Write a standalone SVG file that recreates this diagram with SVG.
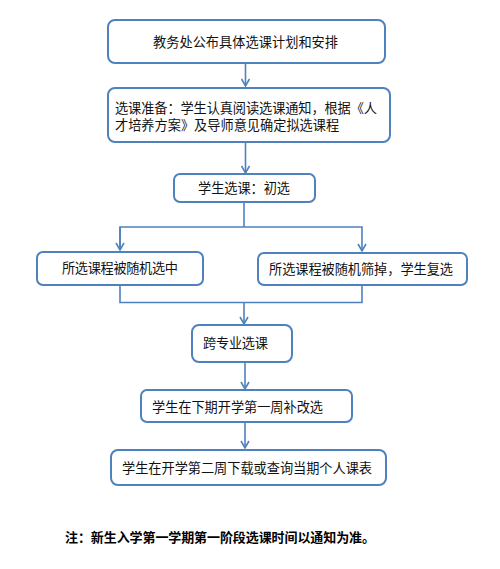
<svg xmlns="http://www.w3.org/2000/svg" width="500" height="569" viewBox="0 0 500 569">
<style>
.box{fill:#fff;stroke:#4f81bd;stroke-width:2}
.t{font-family:"Liberation Sans","Noto Sans CJK SC",sans-serif;font-size:13.2px;fill:#111}
.c{fill:none;stroke:#4f81bd;stroke-width:1.6}
.note{font-family:"Liberation Sans","Noto Sans CJK SC",sans-serif;font-size:13px;font-weight:bold;fill:#000}
</style>
<defs>
<marker id="ah" markerWidth="10" markerHeight="10" refX="8" refY="5" orient="auto" markerUnits="userSpaceOnUse">
<path d="M1,1 L8,5 L1,9" fill="none" stroke="#4f81bd" stroke-width="1.6"/>
</marker>
</defs>
<rect width="500" height="569" fill="#fff"/>
<g id="connectors">
<line class="c" x1="245.5" y1="63" x2="245.5" y2="86" marker-end="url(#ah)"/>
<line class="c" x1="245.5" y1="142" x2="245.5" y2="173" marker-end="url(#ah)"/>
<polyline class="c" points="244,202 244,227"/>
<polyline class="c" points="120,249 120,227 362,227 362,251" marker-end="url(#ah)"/>
<line class="c" x1="120" y1="227" x2="120" y2="250" marker-end="url(#ah)"/>
<polyline class="c" points="120,285 120,302.5 362,302.5 362,285"/>
<line class="c" x1="244" y1="302.5" x2="244" y2="324" marker-end="url(#ah)"/>
<line class="c" x1="245" y1="362" x2="245" y2="389" marker-end="url(#ah)"/>
<line class="c" x1="245" y1="422" x2="245" y2="448" marker-end="url(#ah)"/>
</g>
<g id="n1">
<rect class="box" x="108" y="20" width="277" height="43" rx="7"/>
<text class="t" x="153" y="47" textLength="185" font-size="14.5">教务处公布具体选课计划和安排</text>
</g>
<g id="n2">
<rect class="box" x="108" y="88" width="282" height="54" rx="7"/>
<text class="t" x="115" y="112.5" textLength="262">选课准备：学生认真阅读选课通知，根据《人</text>
<text class="t" x="115" y="129.5">才培养方案》及导师意见确定拟选课程</text>
</g>
<g id="n3">
<rect class="box" x="174" y="174" width="141" height="28" rx="6"/>
<text class="t" x="198" y="192.5" textLength="92">学生选课：初选</text>
</g>
<g id="n4">
<rect class="box" x="37" y="252" width="166" height="33" rx="6"/>
<text class="t" x="62" y="273" textLength="116">所选课程被随机选中</text>
</g>
<g id="n5">
<rect class="box" x="258" y="253" width="209" height="32" rx="6"/>
<text class="t" x="269" y="273.5" textLength="184">所选课程被随机筛掉，学生复选</text>
</g>
<g id="n6">
<rect class="box" x="192" y="325" width="100" height="37" rx="7"/>
<text class="t" x="203" y="348" textLength="65">跨专业选课</text>
</g>
<g id="n7">
<rect class="box" x="141" y="390" width="211" height="32" rx="6"/>
<text class="t" x="152" y="411.5" textLength="171">学生在下期开学第一周补改选</text>
</g>
<g id="n8">
<rect class="box" x="111" y="450" width="275" height="35" rx="7"/>
<text class="t" x="122" y="472.5" textLength="250">学生在开学第二周下载或查询当期个人课表</text>
</g>
<text class="note" x="65" y="541.5" textLength="310">注：新生入学第一学期第一阶段选课时间以通知为准。</text>
</svg>
